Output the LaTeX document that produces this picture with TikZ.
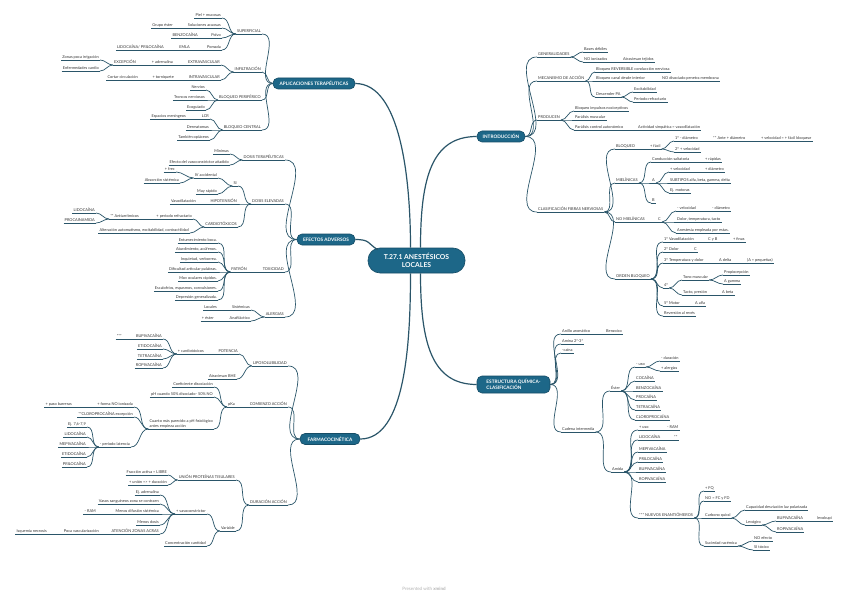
\documentclass[tikz,border=0pt]{standalone}
\usepackage{fontspec}
\setmainfont{Lato}
\definecolor{topicblue}{HTML}{1D6788}
\definecolor{twig}{HTML}{2A5569}
\newcommand\leaffont{\fontsize{3.9}{4.5}\selectfont}
\newcommand\topicfont{\fontsize{4.7}{5.5}\selectfont\bfseries}
\newcommand\rootfont{\fontsize{6.8}{7.8}\selectfont\bfseries}

\begin{document}
\begin{tikzpicture}[x=1pt,y=-1pt,
    br/.style={draw=twig,line width=0.7pt},
    trunk/.style={draw=twig,line width=1.2pt},
    lf/.style={anchor=south east,inner xsep=1pt,inner ysep=0.9pt,font=\leaffont,text=black!80,
      append after command={(\tikzlastnode.south west) edge[br] (\tikzlastnode.south east)}},
    rt/.style={lf,anchor=south west},
    topic/.style={fill=topicblue,draw=topicblue!75!black,line width=0.6pt,rounded corners=5pt,
      text=white,font=\topicfont,minimum height=11pt,inner xsep=3pt,inner ysep=1pt},
    mainnode/.style={topic,font=\rootfont,rounded corners=12pt,align=center,
      minimum width=97pt,minimum height=25pt}]
    \useasboundingbox[fill=white] (0,0) rectangle (848,596);

    % Centre and main topics
    \node[mainnode] (root) at (416.5,260.5) {T.27.1 ANESTÉSICOS\\LOCALES};
    \node[topic,minimum width=82pt] (apl) at (314,83.5) {APLICACIONES TERAPÉUTICAS};
    \node[topic,minimum width=58pt] (efe) at (326,239.5) {EFECTOS ADVERSOS};
    \node[topic,minimum width=60pt] (far) at (330,439) {FARMACOCINÉTICA};
    \node[topic,minimum width=48pt] (int) at (501,136.5) {INTRODUCCIÓN};
    \node[topic,minimum width=73pt,minimum height=17pt,align=left] (est) at (513.5,384.5) {ESTRUCTURA QUÍMICA-\\CLASIFICACIÓN};

    \draw[trunk] (apl.east) .. controls +(45,0) and +(0,-70) .. ([xshift=-6pt]root.north);
    \draw[trunk] (efe.east) .. controls +(15,0) and +(-10,-6) .. ([shift={(10pt,-2pt)}]root.north west);
    \draw[trunk] (far.east) .. controls +(45,0) and +(0,70) .. ([xshift=-6pt]root.south);
    \draw[trunk] (int.west) .. controls +(-45,0) and +(0,-70) .. ([xshift=4pt]root.north);
    \draw[trunk] (est.west) .. controls +(-45,0) and +(0,70) .. ([xshift=4pt]root.south);

    % Aplicaciones terapeuticas
    \node[lf] (sup) at (262,34) {SUPERFICIAL};
    \node[lf] (sup1) at (222,18) {Piel + mucosas};
    \node[lf] (sup2) at (222,28) {Soluciones acuosas};
    \node[lf] (sup2a) at (174,28) {Grupo éster};
    \node[lf] (sup3) at (222,38) {Polvo};
    \node[lf] (sup3a) at (199,38) {BENZOCAÍNA};
    \node[lf] (sup4) at (222,50) {Pomada};
    \node[lf] (sup4a) at (191,50) {EMLA};
    \node[lf] (sup4b) at (165,50) {LIDOCAÍNA/ PRILOCAÍNA};

    \node[lf] (inf) at (262,72) {INFILTRACIÓN};
    \node[lf] (inf1) at (221,65) {EXTRAVASCULAR};
    \node[lf] (inf1a) at (174,65) {+ adrenalina};
    \node[lf] (inf1b) at (137,65) {EXCEPCIÓN};
    \node[lf] (exc1) at (100,60) {Zonas poca irrigación};
    \node[lf] (exc2) at (100,71) {Enfermedades cardio};
    \node[lf] (inf2) at (221,80) {INTRAVASCULAR};
    \node[lf] (inf2a) at (175,80) {+ torniquete};
    \node[lf] (inf2b) at (139,80) {Cortar circulación};

    \node[lf] (bpe) at (262,100) {BLOQUEO PERIFÉRICO};
    \node[lf] (bpe1) at (206,90) {Nervios};
    \node[lf] (bpe2) at (206,100) {Troncos nerviosos};
    \node[lf] (bpe3) at (206,110) {Ecoguiado};

    \node[lf] (bce) at (262,130) {BLOQUEO CENTRAL};
    \node[lf] (bce1) at (210,119) {LCR};
    \node[lf] (bce1a) at (187,119) {Espacios meníngeos};
    \node[lf] (bce2) at (210,130) {Dermatomas};
    \node[lf] (bce3) at (210,140) {También opiáceos};

    \foreach \c in {sup,inf,bpe,bce} \draw[br] (apl.west) to[out=180,in=0] (\c.south east);
    \foreach \c in {sup1,sup2,sup3,sup4} \draw[br] (sup.south west) to[out=180,in=0] (\c.south east);
    \draw[br] (sup2.south west) -- (sup2a.south east);
    \draw[br] (sup3.south west) -- (sup3a.south east);
    \draw[br] (sup4.south west) -- (sup4a.south east);
    \draw[br] (sup4a.south west) -- (sup4b.south east);
    \foreach \c in {inf1,inf2} \draw[br] (inf.south west) to[out=180,in=0] (\c.south east);
    \draw[br] (inf1.south west) -- (inf1a.south east);
    \draw[br] (inf1a.south west) -- (inf1b.south east);
    \foreach \c in {exc1,exc2} \draw[br] (inf1b.south west) to[out=180,in=0] (\c.south east);
    \draw[br] (inf2.south west) -- (inf2a.south east);
    \draw[br] (inf2a.south west) -- (inf2b.south east);
    \foreach \c in {bpe1,bpe2,bpe3} \draw[br] (bpe.south west) to[out=180,in=0] (\c.south east);
    \foreach \c in {bce1,bce2,bce3} \draw[br] (bce.south west) to[out=180,in=0] (\c.south east);
    \draw[br] (bce1.south west) -- (bce1a.south east);

    % Efectos adversos
    \node[lf] (dte) at (285,160) {DOSIS TERAPÉUTICAS};
    \node[lf] (dte1) at (230,154) {Mínimas};
    \node[lf] (dte2) at (230,165) {Efecto del vasoconstrictor añadido};

    \node[lf] (del) at (285,204) {DOSIS ELEVADAS};
    \node[lf] (si) at (238,186) {SI};
    \node[lf] (si1) at (218,178) {IV accidental};
    \node[lf] (si1a) at (176,172) {+ frec};
    \node[lf] (si1b) at (180,183) {Absorción sistémica};
    \node[lf] (si2) at (218,194) {Muy rápido};
    \node[lf] (hip) at (238,204) {HIPOTENSIÓN};
    \node[lf] (hip1) at (197,204) {Vasodilatación};
    \node[lf] (car) at (238,227) {CARDIOTÓXICOS};
    \node[lf] (car1) at (193,219) {+ periodo refractario};
    \node[lf] (car1a) at (140,219) {** Antiarrítmicos};
    \node[lf] (arr1) at (96,213) {LIDOCAÍNA};
    \node[lf] (arr2) at (96,223) {PROCAINAMIDA};
    \node[lf] (car2) at (190,233) {Alteración automatismo, excitabilidad, contractilidad};

    \node[lf] (tox) at (285,272) {TOXICIDAD};
    \node[lf] (pat) at (248,272) {PATRÓN};
    \node[lf] (pat1) at (218,243) {Entumecimiento boca.};
    \node[lf] (pat2) at (218,252) {Aturdimiento, acúfenos.};
    \node[lf] (pat3) at (218,262) {Inquietud, verborrea.};
    \node[lf] (pat4) at (218,272) {Dificultad articular palabras.};
    \node[lf] (pat5) at (218,281) {Mov oculares rápidos.};
    \node[lf] (pat6) at (218,291) {Escalofríos, espasmos, convulsiones.};
    \node[lf] (pat7) at (218,300) {Depresión generalizada.};

    \node[lf] (ale) at (285,317) {ALERGIAS};
    \node[lf] (ale1) at (251,310) {Sistémicas};
    \node[lf] (ale1a) at (218,310) {Locales};
    \node[lf] (ale2) at (251,321) {Anafiláctico};
    \node[lf] (ale2a) at (215,321) {+ éster};

    \foreach \c in {dte,del,tox,ale} \draw[br] (efe.west) to[out=180,in=0] (\c.south east);
    \foreach \c in {dte1,dte2} \draw[br] (dte.south west) to[out=180,in=0] (\c.south east);
    \foreach \c in {si,hip,car} \draw[br] (del.south west) to[out=180,in=0] (\c.south east);
    \foreach \c in {si1,si2} \draw[br] (si.south west) to[out=180,in=0] (\c.south east);
    \foreach \c in {si1a,si1b} \draw[br] (si1.south west) to[out=180,in=0] (\c.south east);
    \draw[br] (hip.south west) -- (hip1.south east);
    \foreach \c in {car1,car2} \draw[br] (car.south west) to[out=180,in=0] (\c.south east);
    \draw[br] (car1.south west) -- (car1a.south east);
    \foreach \c in {arr1,arr2} \draw[br] (car1a.south west) to[out=180,in=0] (\c.south east);
    \draw[br] (tox.south west) -- (pat.south east);
    \foreach \c in {pat1,pat2,pat3,pat4,pat5,pat6,pat7} \draw[br] (pat.south west) to[out=180,in=0] (\c.south east);
    \foreach \c in {ale1,ale2} \draw[br] (ale.south west) to[out=180,in=0] (\c.south east);
    \draw[br] (ale1.south west) -- (ale1a.south east);
    \draw[br] (ale2.south west) -- (ale2a.south east);

    % Farmacocinetica
    \node[lf] (lip) at (288,366) {LIPOSOLUBILIDAD};
    \node[lf] (pot) at (239,354) {POTENCIA};
    \node[lf] (pot1) at (205,354) {+ cardiotóxicos};
    \node[lf] (cdt1) at (163,339) {BUPIVACAÍNA};
    \node[lf] (cdt1a) at (123,339) {***};
    \node[lf] (cdt2) at (163,349) {ETIDOCAÍNA};
    \node[lf] (cdt3) at (163,359) {TETRACAÍNA};
    \node[lf] (cdt4) at (163,368) {ROPIVACAÍNA};
    \node[lf] (bhe) at (237,379) {Atraviesan BHE};

    \node[lf] (com) at (288,407) {COMIENZO ACCIÓN};
    \node[lf] (pka) at (236,407) {pKa};
    \node[lf] (pka1) at (214,387) {Coeficiente disociación};
    \node[lf] (pka2) at (214,397) {pH cuando 50\% disociado- 50\% NO};
    \node[lf,align=left] (pka3) at (214,429) {Cuanto más parecido a pH fisiológico\\antes empieza acción};
    \node[lf] (pka3a) at (134,407) {+ forma NO ionizada};
    \node[lf] (pka3a1) at (73,407) {+ paso barreras};
    \node[lf] (pka3b) at (134,417) {**CLOROPROCAÍNA excepción};
    \node[lf] (pka3c) at (131,447) {- período latencia};
    \node[lf] (lat1) at (87,427) {Ej. 7,6-7,9};
    \node[lf] (lat2) at (87,437) {LIDOCAÍNA};
    \node[lf] (lat3) at (87,447) {MEPIVACAÍNA};
    \node[lf] (lat4) at (87,457) {ETIDOCAÍNA};
    \node[lf] (lat5) at (87,467) {PRILOCAÍNA};

    \node[lf] (dur) at (288,505) {DURACIÓN ACCIÓN};
    \node[lf] (upt) at (236,480) {UNIÓN PROTEÍNAS TISULARES};
    \node[lf] (upt1) at (168,475) {Fracción activa = LIBRE};
    \node[lf] (upt2) at (168,485) {+ unión => + duración};
    \node[lf] (var) at (236,531) {Variable};
    \node[lf] (vas) at (207,514) {+ vasoconstrictor};
    \node[lf] (vas1) at (160,495) {Ej. adrenalina};
    \node[lf] (vas2) at (160,504) {Vasos sanguíneos zona se contraen};
    \node[lf] (vas3) at (160,514) {Menos difusión sistémica};
    \node[lf] (vas3a) at (97,514) {- RAM};
    \node[lf] (vas4) at (160,525) {Menos dosis};
    \node[lf] (vas5) at (160,534) {ATENCIÓN ZONAS ACRAS};
    \node[lf] (vas5a) at (100,534) {Poca vascularización};
    \node[lf] (vas5b) at (48,534) {Isquemia necrosis};
    \node[lf] (var2) at (207,546) {Concentración cantidad};

    \foreach \c in {lip,com,dur} \draw[br] (far.west) to[out=180,in=0] (\c.south east);
    \foreach \c in {pot,bhe} \draw[br] (lip.south west) to[out=180,in=0] (\c.south east);
    \draw[br] (pot.south west) -- (pot1.south east);
    \foreach \c in {cdt1,cdt2,cdt3,cdt4} \draw[br] (pot1.south west) to[out=180,in=0] (\c.south east);
    \draw[br] (cdt1.south west) -- (cdt1a.south east);
    \draw[br] (com.south west) -- (pka.south east);
    \foreach \c in {pka1,pka2,pka3} \draw[br] (pka.south west) to[out=180,in=0] (\c.south east);
    \foreach \c in {pka3a,pka3b,pka3c} \draw[br] (pka3.south west) to[out=180,in=0] (\c.south east);
    \draw[br] (pka3a.south west) -- (pka3a1.south east);
    \foreach \c in {lat1,lat2,lat3,lat4,lat5} \draw[br] (pka3c.south west) to[out=180,in=0] (\c.south east);
    \foreach \c in {upt,var} \draw[br] (dur.south west) to[out=180,in=0] (\c.south east);
    \foreach \c in {upt1,upt2} \draw[br] (upt.south west) to[out=180,in=0] (\c.south east);
    \foreach \c in {vas,var2} \draw[br] (var.south west) to[out=180,in=0] (\c.south east);
    \foreach \c in {vas1,vas2,vas3,vas4,vas5} \draw[br] (vas.south west) to[out=180,in=0] (\c.south east);
    \draw[br] (vas3.south west) -- (vas3a.south east);
    \draw[br] (vas5.south west) -- (vas5a.south east);
    \draw[br] (vas5a.south west) -- (vas5b.south east);

    % Introduccion
    \node[rt] (gen) at (537,57) {GENERALIDADES};
    \node[rt] (gen1) at (583,52) {Bases débiles};
    \node[rt] (gen2) at (583,62) {NO ionizados};
    \node[rt] (gen2a) at (622,62) {Atraviesan tejidos};

    \node[rt] (mec) at (537,81) {MECANISMO DE ACCIÓN};
    \node[rt] (mec1) at (595,72) {Bloqueo REVERSIBLE conducción nerviosa};
    \node[rt] (mec2) at (595,81) {Bloqueo canal desde interior};
    \node[rt] (mec2a) at (661,81) {NO disociado penetra membrana};
    \node[rt] (mec3) at (595,97) {Descender PA};
    \node[rt] (mec3a) at (633,92) {Excitabilidad};
    \node[rt] (mec3b) at (633,102) {Periodo refractario};

    \node[rt] (pro) at (537,120) {PRODUCEN};
    \node[rt] (pro1) at (574,111) {Bloqueo impulsos nociceptivos};
    \node[rt] (pro2) at (574,120) {Parálisis muscular};
    \node[rt] (pro3) at (574,130) {Parálisis control autonómico};
    \node[rt] (pro3a) at (637,130) {Actividad simpática = vasodilatación};

    \node[rt] (cla) at (537,212) {CLASIFICACIÓN FIBRAS NERVIOSAS};
    \node[rt] (blq) at (615,149) {BLOQUEO};
    \node[rt] (blq1) at (649,149) {+ fácil};
    \node[rt] (blq1a) at (674,141) {1º - diámetro};
    \node[rt] (blq1b) at (712,141) {** Ante + diámetro};
    \node[rt] (blq1c) at (760,141) {+ velocidad = + fácil bloquear};
    \node[rt] (blq2) at (674,152) {2º + velocidad};

    \node[rt] (mie) at (615,183) {MIELÍNICAS};
    \node[rt] (mie1) at (651,162) {Conducción saltatoria};
    \node[rt] (mie1a) at (704,162) {+ rápidas};
    \node[rt] (fibA) at (651,183) {A};
    \node[rt] (fibA1) at (669,172) {+ velocidad};
    \node[rt] (fibA1a) at (704,172) {+ diámetro};
    \node[rt] (fibA2) at (669,183) {SUBTIPOS alfa, beta, gamma, delta};
    \node[rt] (fibA3) at (669,193) {Ej. motoras};
    \node[rt] (fibB) at (651,203) {B};

    \node[rt] (nom) at (615,222) {NO MIELÍNICAS};
    \node[rt] (fibC) at (657,222) {C};
    \node[rt] (fibC1) at (676,211) {- velocidad};
    \node[rt] (fibC1a) at (711,211) {- diámetro};
    \node[rt] (fibC2) at (676,222) {Dolor, temperatura, tacto};
    \node[rt] (fibC3) at (676,233) {Anestesia empleada por estas.};

    \node[rt] (ord) at (615,279) {ORDEN BLOQUEO};
    \node[rt] (ord1) at (663,242) {1º Vasodilatación};
    \node[rt] (ord1a) at (707,242) {C y B};
    \node[rt] (ord1b) at (732,242) {+ finas};
    \node[rt] (ord2) at (663,252) {2º Dolor};
    \node[rt] (ord2a) at (693,252) {C};
    \node[rt] (ord3) at (663,263) {3º Temperatura y dolor};
    \node[rt] (ord3a) at (718,263) {A delta};
    \node[rt] (ord3b) at (746,263) {(A = pequeñas)};
    \node[rt] (ord4) at (663,288) {4º};
    \node[rt] (ton) at (682,280) {Tono muscular};
    \node[rt] (ton1) at (723,275) {Propiocepción};
    \node[rt] (ton2) at (723,284) {A gamma};
    \node[rt] (tac) at (682,295) {Tacto, presión};
    \node[rt] (tac1) at (721,295) {A beta};
    \node[rt] (ord5) at (663,306) {5º Motor};
    \node[rt] (ord5a) at (694,306) {A alfa};
    \node[rt] (ord6) at (663,316) {Reversión al revés};

    \foreach \c in {gen,mec,pro,cla} \draw[br] (int.east) to[out=0,in=180] (\c.south west);
    \foreach \c in {gen1,gen2} \draw[br] (gen.south east) to[out=0,in=180] (\c.south west);
    \draw[br] (gen2.south east) -- (gen2a.south west);
    \foreach \c in {mec1,mec2,mec3} \draw[br] (mec.south east) to[out=0,in=180] (\c.south west);
    \draw[br] (mec2.south east) -- (mec2a.south west);
    \foreach \c in {mec3a,mec3b} \draw[br] (mec3.south east) to[out=0,in=180] (\c.south west);
    \foreach \c in {pro1,pro2,pro3} \draw[br] (pro.south east) to[out=0,in=180] (\c.south west);
    \draw[br] (pro3.south east) -- (pro3a.south west);
    \foreach \c in {blq,mie,nom,ord} \draw[br] (cla.south east) to[out=0,in=180] (\c.south west);
    \draw[br] (blq.south east) -- (blq1.south west);
    \foreach \c in {blq1a,blq2} \draw[br] (blq1.south east) to[out=0,in=180] (\c.south west);
    \draw[br] (blq1a.south east) -- (blq1b.south west);
    \draw[br] (blq1b.south east) -- (blq1c.south west);
    \foreach \c in {mie1,fibA,fibB} \draw[br] (mie.south east) to[out=0,in=180] (\c.south west);
    \draw[br] (mie1.south east) -- (mie1a.south west);
    \foreach \c in {fibA1,fibA2,fibA3} \draw[br] (fibA.south east) to[out=0,in=180] (\c.south west);
    \draw[br] (fibA1.south east) -- (fibA1a.south west);
    \draw[br] (nom.south east) -- (fibC.south west);
    \foreach \c in {fibC1,fibC2,fibC3} \draw[br] (fibC.south east) to[out=0,in=180] (\c.south west);
    \draw[br] (fibC1.south east) -- (fibC1a.south west);
    \foreach \c in {ord1,ord2,ord3,ord4,ord5,ord6} \draw[br] (ord.south east) to[out=0,in=180] (\c.south west);
    \draw[br] (ord1.south east) -- (ord1a.south west);
    \draw[br] (ord1a.south east) -- (ord1b.south west);
    \draw[br] (ord2.south east) -- (ord2a.south west);
    \draw[br] (ord3.south east) -- (ord3a.south west);
    \draw[br] (ord3a.south east) -- (ord3b.south west);
    \foreach \c in {ton,tac} \draw[br] (ord4.south east) to[out=0,in=180] (\c.south west);
    \foreach \c in {ton1,ton2} \draw[br] (ton.south east) to[out=0,in=180] (\c.south west);
    \draw[br] (tac.south east) -- (tac1.south west);
    \draw[br] (ord5.south east) -- (ord5a.south west);

    % Estructura quimica - clasificacion
    \node[rt] (ani) at (561,334) {Anillo aromático};
    \node[rt] (ani1) at (605,334) {Benzoico};
    \node[rt] (ami) at (561,344) {Amina 2ª-3ª};
    \node[rt] (cai) at (561,353) {-caína};
    \node[rt] (cad) at (561,432) {Cadena intermedia};

    \node[rt] (ste) at (610,391) {Éster};
    \node[rt] (ste0) at (635,367) {- uso};
    \node[rt] (ste0a) at (660,361) {- duración};
    \node[rt] (ste0b) at (660,371) {+ alergias};
    \node[rt] (ste1) at (635,381) {COCAÍNA};
    \node[rt] (ste2) at (635,391) {BENZOCAÍNA};
    \node[rt] (ste3) at (635,400) {PROCAÍNA};
    \node[rt] (ste4) at (635,410) {TETRACAÍNA};
    \node[rt] (ste5) at (635,420) {CLOROPROCAÍNA};

    \node[rt] (amd) at (611,472) {Amida};
    \node[rt] (amd0) at (638,430) {+ uso};
    \node[rt] (amd0a) at (666,430) {- RAM};
    \node[rt] (amd1) at (638,440) {LIDOCAÍNA};
    \node[rt] (amd1a) at (673,440) {**};
    \node[rt] (amd2) at (638,452) {MEPIVACAÍNA};
    \node[rt] (amd3) at (638,462) {PRILOCAÍNA};
    \node[rt] (amd4) at (638,472) {BUPIVACAÍNA};
    \node[rt] (amd5) at (638,482) {ROPIVACAÍNA};
    \node[rt] (ena) at (638,518) {*** NUEVOS ENANTIÓMEROS};
    \node[rt] (ena1) at (704,491) {+ FQ};
    \node[rt] (ena2) at (704,501) {NO = FC y FD};
    \node[rt] (qui) at (704,518) {Carbono quiral};
    \node[rt] (qui1) at (745,510) {Capacidad desviación luz polarizada};
    \node[rt] (lev) at (745,525) {Levógiro};
    \node[rt] (lev1) at (776,521) {BUPIVACAÍNA};
    \node[rt] (lev1a) at (816,521) {levobupi};
    \node[rt] (lev2) at (776,532) {ROPIVACAÍNA};
    \node[rt] (rac) at (704,546) {Suciedad racémica};
    \node[rt] (rac1) at (753,541) {NO efecto};
    \node[rt] (rac2) at (753,550) {SI tóxico};

    \foreach \c in {ani,ami,cai,cad} \draw[br] (est.east) to[out=0,in=180] (\c.south west);
    \draw[br] (ani.south east) -- (ani1.south west);
    \foreach \c in {ste,amd} \draw[br] (cad.south east) to[out=0,in=180] (\c.south west);
    \foreach \c in {ste0,ste1,ste2,ste3,ste4,ste5} \draw[br] (ste.south east) to[out=0,in=180] (\c.south west);
    \foreach \c in {ste0a,ste0b} \draw[br] (ste0.south east) to[out=0,in=180] (\c.south west);
    \foreach \c in {amd0,amd1,amd2,amd3,amd4,amd5,ena} \draw[br] (amd.south east) to[out=0,in=180] (\c.south west);
    \draw[br] (amd0.south east) -- (amd0a.south west);
    \draw[br] (amd1.south east) -- (amd1a.south west);
    \foreach \c in {ena1,ena2,qui,rac} \draw[br] (ena.south east) to[out=0,in=180] (\c.south west);
    \foreach \c in {qui1,lev} \draw[br] (qui.south east) to[out=0,in=180] (\c.south west);
    \foreach \c in {lev1,lev2} \draw[br] (lev.south east) to[out=0,in=180] (\c.south west);
    \draw[br] (lev1.south east) -- (lev1a.south west);
    \foreach \c in {rac1,rac2} \draw[br] (rac.south east) to[out=0,in=180] (\c.south west);

    % Footer
    \node[font=\fontsize{4.5}{5}\selectfont,text=black!30] (credit) at (424,589) {Presented with \textbf{xmind}};
\end{tikzpicture}
\end{document}
